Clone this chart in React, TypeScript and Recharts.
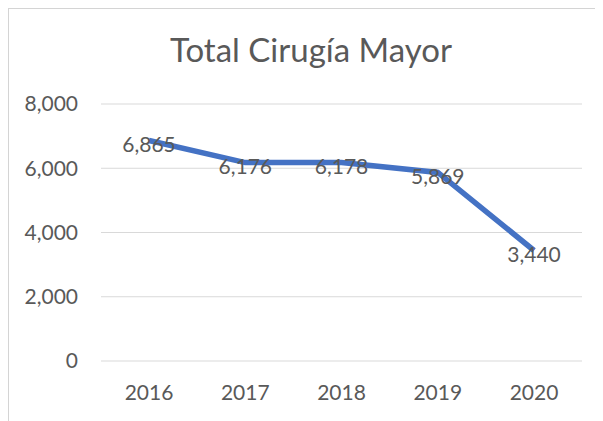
import { LineChart, Line, XAxis, YAxis, CartesianGrid, LabelList } from 'recharts';

const YEARS = ['2016', '2017', '2018', '2019', '2020'];
const TOTALS = [6865, 6176, 6178, 5869, 3440];
const Y_TICKS = [0, 2000, 4000, 6000, 8000];

const data = YEARS.map((year, i) => ({ year, total: TOTALS[i] }));

const TEXT = '#595959';
const FONT = 'Lato, sans-serif';
const fmt = (v: number) => v.toLocaleString('en-US');

function PointLabel(props: any) {
  const { x, y, value } = props;
  return (
    <text x={x} y={y} dy={3} textAnchor="middle" dominantBaseline="central"
      fill={TEXT} fontSize={21} fontFamily={FONT}>
      {fmt(Number(value))}
    </text>
  );
}

export default function App() {
  return (
    <div style={{ position: 'relative', marginLeft: -1, marginTop: -1, width: 596, height: 414, overflow: 'hidden', background: '#fff' }}>
      <div style={{ position: 'absolute', left: 0, top: 0, width: 700, height: 500, borderTop: '2px solid #d4d4d4', borderLeft: '2px solid #d4d4d4', boxSizing: 'border-box' }} />
      <div style={{
        position: 'absolute', left: 6, top: 26, width: 596, textAlign: 'center',
        fontFamily: FONT, fontSize: 33, lineHeight: '33px', color: TEXT,
      }}>
        Total Cirugía Mayor
      </div>
      <div style={{ position: 'absolute', left: 1, top: 1 }}>
        <LineChart width={595} height={413} data={data} margin={{ top: 96, right: 21, left: 0, bottom: 20 }}>
          <CartesianGrid vertical={false} stroke="#d9d9d9" />
          <XAxis dataKey="year" height={40} axisLine={false} tickLine={false} tickSize={0} tickMargin={24}
            padding={{ left: 48, right: 48 }}
            tick={{ fill: TEXT, fontSize: 21, fontFamily: FONT }} />
          <YAxis width={93} domain={[0, 8000]} ticks={Y_TICKS} axisLine={false} tickLine={false}
            tickSize={0} tickMargin={23} tickFormatter={fmt}
            tick={{ fill: TEXT, fontSize: 21, fontFamily: FONT }} />
          <Line type="linear" dataKey="total" stroke="#4472C4" strokeWidth={5.5} dot={false}
            activeDot={false} isAnimationActive={false}>
            <LabelList dataKey="total" content={PointLabel} />
          </Line>
        </LineChart>
      </div>
    </div>
  );
}
